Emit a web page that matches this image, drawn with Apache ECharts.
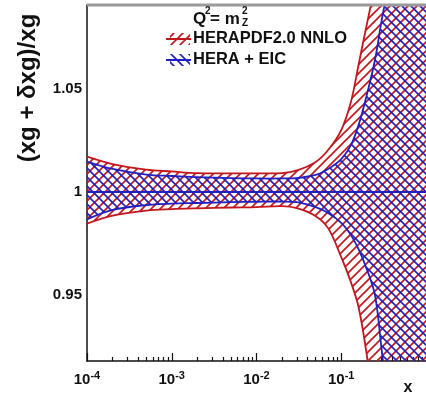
<!DOCTYPE html>
<html>
<head>
<meta charset="utf-8">
<script src="https://cdn.jsdelivr.net/npm/echarts@6/dist/echarts.min.js"></script>
<style>
html,body{margin:0;padding:0;background:#fff;}
#c{width:426px;height:397px;}
</style>
</head>
<body>
<div id="c"></div>
<script>
// ---- data ----
const xs        = [1e-4, 2e-4, 5e-4, 1e-3, 2e-3, 5e-3, 1e-2, 2e-2, 3e-2, 5e-2, 7e-2, 0.1, 0.13, 0.16, 0.2, 0.25, 0.3, 0.4, 0.5, 0.7, 1];
const heraUp    = [1.0172, 1.0136, 1.0109, 1.0100, 1.0092, 1.0091, 1.0091, 1.0092, 1.0105, 1.0146, 1.0204, 1.0301, 1.0437, 1.0617, 1.0813, 1.100, 1.1155, 1.15, 1.19, 1.27, 1.4];
const heraLo    = [0.9847, 0.9886, 0.9910, 0.9917, 0.9921, 0.9925, 0.9927, 0.9932, 0.9922, 0.9883, 0.9825, 0.9684, 0.9563, 0.9442, 0.9210, 0.89, 0.87, 0.84, 0.82, 0.78, 0.75];
const eicUp     = [1.0148, 1.0112, 1.0085, 1.0078, 1.0073, 1.0068, 1.0066, 1.0066, 1.0068, 1.0083, 1.0112, 1.0160, 1.0228, 1.0325, 1.0471, 1.0641, 1.0835, 1.11, 1.14, 1.2, 1.3];
const eicLo     = [0.9867, 0.9913, 0.9937, 0.9944, 0.9947, 0.9951, 0.9953, 0.9954, 0.9951, 0.9927, 0.9898, 0.9850, 0.9791, 0.9723, 0.9626, 0.9500, 0.9233, 0.88, 0.86, 0.83, 0.8];
const centralX  = [1e-4, 1];
const centralY  = [1, 1];
const xMajorLog = [-4, -3, -2, -1, 0];
const xLabelLog = [-4, -3, -2, -1];
const yMajor    = [0.95, 1, 1.05];
const yMinor    = [0.92, 0.93, 0.94, 0.96, 0.97, 0.98, 0.99, 1.01, 1.02, 1.03, 1.04, 1.06, 1.07, 1.08, 1.09];
const seriesNames = ['HERAPDF2.0 NNLO', 'HERA + EIC'];

const RED = '#c0161c', BLUE = '#2020c0';
const FONT = '"Liberation Sans", Arial, Helvetica, sans-serif';

const xMinorLog = [];
for (let d = -4; d < 0; d++) for (let k = 2; k <= 9; k++) xMinorLog.push(d + Math.log10(k));

function hatch(color, dir) {
  const s = 9, c = document.createElement('canvas');
  c.width = s; c.height = s;
  const g = c.getContext('2d');
  g.strokeStyle = color; g.lineWidth = 1.6;
  g.beginPath();
  if (dir > 0) {
    g.moveTo(-1, s + 1); g.lineTo(s + 1, -1);
    g.moveTo(-2, 2); g.lineTo(2, -2);
    g.moveTo(s - 2, s + 2); g.lineTo(s + 2, s - 2);
  } else {
    g.moveTo(-1, -1); g.lineTo(s + 1, s + 1);
    g.moveTo(s - 2, -2); g.lineTo(s + 2, 2);
    g.moveTo(-2, s - 2); g.lineTo(2, s + 2);
  }
  g.stroke();
  return { image: c, repeat: 'repeat' };
}
const redPat = hatch(RED, 1), bluePat = hatch(BLUE, -1);

function band(name, lo, hi, pat, color, z) {
  return {
    type: 'custom', name: name, xAxisIndex: 0, yAxisIndex: 0, z: z,
    clip: true, silent: true, data: [0],
    renderItem: function (params, api) {
      const up = xs.map((x, i) => api.coord([x, hi[i]]));
      const dn = xs.map((x, i) => api.coord([x, lo[i]]));
      const n = up.length;
      const poly = [up[0]].concat(up, [up[n - 1], dn[n - 1]], dn.slice().reverse(), [dn[0]]);
      const cs = params.coordSys;
      return {
        type: 'group',
        clipPath: { type: 'rect', shape: { x: cs.x, y: cs.y, width: cs.width, height: cs.height } },
        children: [
          { type: 'polygon', shape: { points: poly, smooth: 0.35 }, style: { fill: pat, stroke: null } },
          { type: 'polyline', shape: { points: up, smooth: 0.35 }, style: { stroke: color, lineWidth: 1.8, fill: null } },
          { type: 'polyline', shape: { points: dn, smooth: 0.35 }, style: { stroke: color, lineWidth: 1.8, fill: null } }
        ]
      };
    }
  };
}

const chart = echarts.init(document.getElementById('c'), null, { renderer: 'canvas' });
const gridRect = { left: 87, top: 5, right: -2, bottom: 36 };
const tickStyle = { color: '#111', width: 1.2 };
const noTicks = { show: false };

function tickAxis(min, max, pos, vals, len) {
  return { type: 'value', min: min, max: max, position: pos,
    axisLine: { show: false },
    axisTick: { show: true, inside: true, length: len, customValues: vals, lineStyle: tickStyle },
    axisLabel: { show: false }, splitLine: { show: false } };
}

chart.setOption({
  animation: false,
  backgroundColor: '#fff',
  grid: Object.assign({ containLabel: false }, gridRect),
  xAxis: [
    { type: 'log', logBase: 10, min: 1e-4, max: 1, show: false },
    { type: 'value', min: -4, max: 0, position: 'bottom',
      axisLine: { show: true, onZero: false, lineStyle: { color: '#111', width: 1.5 } },
      axisTick: noTicks,
      axisLabel: { show: true, customValues: xLabelLog, margin: 9, color: '#111',
        fontFamily: FONT, fontWeight: 'bold', fontSize: 15,
        formatter: v => '10{s|' + Math.round(v) + '}',
        rich: { s: { fontSize: 11, fontWeight: 'bold', fontFamily: FONT, color: '#111', padding: [0, 0, 9, 0] } } },
      splitLine: { show: false } },
    tickAxis(-4, 0, 'bottom', xMajorLog, 8),
    tickAxis(-4, 0, 'bottom', xMinorLog, 4)
  ],
  yAxis: [
    { type: 'value', min: 0.918, max: 1.0908, position: 'left',
      axisLine: { show: true, onZero: false, lineStyle: { color: '#111', width: 1.5 } },
      axisTick: noTicks,
      axisLabel: { show: true, customValues: yMajor, margin: 5, color: '#111',
        fontFamily: FONT, fontWeight: 'bold', fontSize: 15, padding: [7, 0, 0, 0],
        formatter: v => (Math.abs(v - 1) < 1e-9 ? '1' : v.toFixed(2)) },
      splitLine: { show: false } },
    tickAxis(0.918, 1.0908, 'left', yMajor, 9),
    tickAxis(0.918, 1.0908, 'left', yMinor, 5)
  ],
  series: [
    band(seriesNames[0], heraLo, heraUp, redPat, RED, 2),
    band(seriesNames[1], eicLo, eicUp, bluePat, BLUE, 3),
    { type: 'line', name: 'central', xAxisIndex: 0, yAxisIndex: 0, z: 4,
      data: centralX.map((x, i) => [x, centralY[i]]), symbol: 'none', silent: true,
      lineStyle: { color: BLUE, width: 2 } }
  ],
  graphic: [
    { type: 'line', z: 10, shape: { x1: 87, y1: 5, x2: 426, y2: 5 }, style: { stroke: '#9a9a9a', lineWidth: 3 } },
    { type: 'text', z: 10, x: 28, y: 88, rotation: Math.PI / 2,
      style: { text: '(xg + \u03b4xg)/xg', font: 'bold 24px ' + FONT, fill: '#111', align: 'center', verticalAlign: 'middle' } },
    { type: 'text', z: 10, x: 408, y: 388,
      style: { text: 'x', font: 'bold 16px ' + FONT, fill: '#111', align: 'center', verticalAlign: 'middle' } },
    // title Q^2 = m_Z^2
    { type: 'text', z: 10, x: 193, y: 19, style: { text: 'Q', font: 'bold 17px ' + FONT, fill: '#111', align: 'left', verticalAlign: 'middle' } },
    { type: 'text', z: 10, x: 205, y: 11, style: { text: '2', font: 'bold 10px ' + FONT, fill: '#111', align: 'left', verticalAlign: 'middle' } },
    { type: 'text', z: 10, x: 210, y: 19, style: { text: '= m', font: 'bold 17px ' + FONT, fill: '#111', align: 'left', verticalAlign: 'middle' } },
    { type: 'text', z: 10, x: 242, y: 11, style: { text: '2', font: 'bold 10px ' + FONT, fill: '#111', align: 'left', verticalAlign: 'middle' } },
    { type: 'text', z: 10, x: 242, y: 23, style: { text: 'Z', font: 'bold 10px ' + FONT, fill: '#111', align: 'left', verticalAlign: 'middle' } },
    // legend
    { type: 'rect', z: 10, shape: { x: 170, y: 33, width: 20, height: 12 }, style: { fill: redPat, stroke: null } },
    { type: 'line', z: 11, shape: { x1: 166, y1: 39, x2: 191, y2: 39 }, style: { stroke: RED, lineWidth: 2 } },
    { type: 'text', z: 10, x: 193, y: 38, style: { text: seriesNames[0], font: 'bold 16.5px ' + FONT, fill: '#111', align: 'left', verticalAlign: 'middle' } },
    { type: 'rect', z: 10, shape: { x: 170, y: 54, width: 20, height: 12 }, style: { fill: bluePat, stroke: null } },
    { type: 'line', z: 11, shape: { x1: 166, y1: 60, x2: 191, y2: 60 }, style: { stroke: BLUE, lineWidth: 2 } },
    { type: 'text', z: 10, x: 193, y: 59, style: { text: seriesNames[1], font: 'bold 16.5px ' + FONT, fill: '#111', align: 'left', verticalAlign: 'middle' } }
  ]
});
</script>
</body>
</html>
